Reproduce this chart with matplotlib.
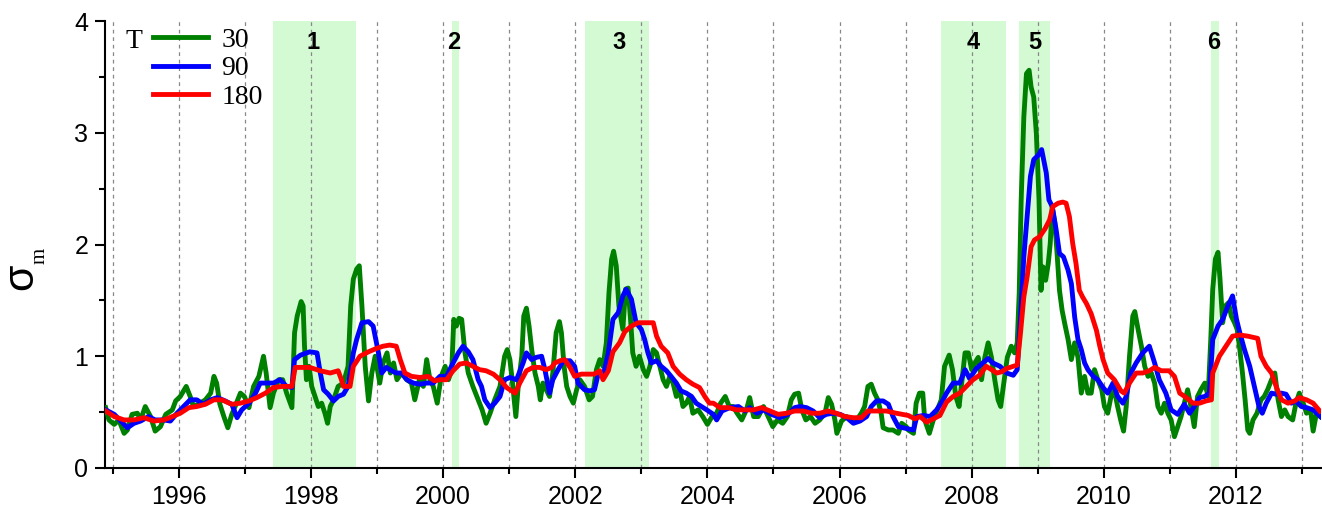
import matplotlib
matplotlib.use('Agg')
import matplotlib.pyplot as plt
from matplotlib.ticker import MultipleLocator, FixedLocator

plt.rcParams['font.family'] = ['Liberation Sans', 'DejaVu Sans']

# T = 30
t30 = [1994.89, 1994.94, 1995.02, 1995.09, 1995.17, 1995.22, 1995.29, 1995.37, 1995.42, 1995.49,
       1995.57, 1995.64, 1995.72, 1995.80, 1995.90, 1995.95, 1996.02, 1996.11, 1996.17, 1996.22,
       1996.32, 1996.40, 1996.48, 1996.53, 1996.57, 1996.62, 1996.68, 1996.74, 1996.80, 1996.85,
       1996.93, 1996.99, 1997.06, 1997.13, 1997.21, 1997.28, 1997.32, 1997.38, 1997.43, 1997.51,
       1997.57, 1997.63, 1997.71, 1997.75, 1997.79, 1997.85, 1997.88, 1997.90, 1997.93, 1997.97,
       1998.01, 1998.06, 1998.11, 1998.16, 1998.21, 1998.25, 1998.29, 1998.34, 1998.41, 1998.49,
       1998.56, 1998.60, 1998.64, 1998.69, 1998.73, 1998.77, 1998.82, 1998.87, 1998.92, 1998.97,
       1999.04, 1999.09, 1999.15, 1999.20, 1999.25, 1999.30, 1999.37, 1999.45, 1999.52, 1999.57,
       1999.64, 1999.70, 1999.75, 1999.80, 1999.85, 1999.91, 1999.97, 2000.03, 2000.08, 2000.13,
       2000.16, 2000.20, 2000.24, 2000.28, 2000.33, 2000.38, 2000.45, 2000.53, 2000.59, 2000.65,
       2000.71, 2000.78, 2000.86, 2000.93, 2000.97, 2001.01, 2001.05, 2001.10, 2001.14, 2001.19,
       2001.22, 2001.26, 2001.30, 2001.34, 2001.39, 2001.44, 2001.47, 2001.51, 2001.56, 2001.61,
       2001.66, 2001.71, 2001.76, 2001.79, 2001.83, 2001.87, 2001.92, 2001.97, 2002.02, 2002.07,
       2002.14, 2002.21, 2002.26, 2002.32, 2002.37, 2002.42, 2002.47, 2002.51, 2002.55, 2002.58,
       2002.62, 2002.66, 2002.72, 2002.76, 2002.80, 2002.84, 2002.87, 2002.92, 2002.97, 2003.03,
       2003.08, 2003.13, 2003.18, 2003.23, 2003.28, 2003.33, 2003.38, 2003.43, 2003.48, 2003.53,
       2003.58, 2003.63, 2003.68, 2003.73, 2003.78, 2003.86, 2003.93, 2004.00, 2004.07, 2004.14,
       2004.20, 2004.27, 2004.33, 2004.39, 2004.45, 2004.52, 2004.59, 2004.64, 2004.70, 2004.77,
       2004.85, 2004.92, 2004.99, 2005.06, 2005.14, 2005.21, 2005.27, 2005.32, 2005.38, 2005.43,
       2005.49, 2005.56, 2005.63, 2005.70, 2005.78, 2005.83, 2005.88, 2005.93, 2005.96, 2006.03,
       2006.11, 2006.18, 2006.26, 2006.33, 2006.38, 2006.43, 2006.48, 2006.53, 2006.58, 2006.63,
       2006.66, 2006.74, 2006.81, 2006.89, 2006.94, 2007.01, 2007.04, 2007.12, 2007.16, 2007.21,
       2007.26, 2007.29, 2007.36, 2007.42, 2007.48, 2007.54, 2007.59, 2007.66, 2007.71, 2007.76,
       2007.81, 2007.85, 2007.90, 2007.95, 2008.00, 2008.05, 2008.10, 2008.15, 2008.20, 2008.25,
       2008.30, 2008.35, 2008.40, 2008.44, 2008.48, 2008.54, 2008.60, 2008.65, 2008.69, 2008.72,
       2008.75, 2008.79, 2008.83, 2008.87, 2008.90, 2008.94, 2008.98, 2009.02, 2009.05, 2009.08,
       2009.12, 2009.16, 2009.19, 2009.22, 2009.26, 2009.29, 2009.33, 2009.37, 2009.41, 2009.46,
       2009.51, 2009.56, 2009.61, 2009.66, 2009.71, 2009.76, 2009.81, 2009.86, 2009.91, 2009.97,
       2010.01, 2010.06, 2010.11, 2010.16, 2010.21, 2010.26, 2010.30, 2010.34, 2010.39, 2010.44,
       2010.47, 2010.52, 2010.57, 2010.62, 2010.67, 2010.72, 2010.77, 2010.82, 2010.87, 2010.92,
       2010.97, 2011.02, 2011.07, 2011.12, 2011.17, 2011.22, 2011.27, 2011.32, 2011.37, 2011.42,
       2011.47, 2011.53, 2011.58, 2011.62, 2011.65, 2011.69, 2011.73, 2011.76, 2011.80, 2011.84,
       2011.89, 2011.93, 2011.98, 2012.02, 2012.06, 2012.10, 2012.14, 2012.18, 2012.21, 2012.26,
       2012.32, 2012.38, 2012.43, 2012.48, 2012.54, 2012.59, 2012.64, 2012.69, 2012.74, 2012.79,
       2012.86, 2012.91, 2012.96, 2013.02, 2013.07, 2013.13, 2013.17, 2013.22, 2013.28]
s30 = [0.54, 0.43, 0.39, 0.43, 0.31, 0.34, 0.48, 0.49, 0.43, 0.55,
       0.46, 0.33, 0.37, 0.48, 0.52, 0.60, 0.64, 0.73, 0.64, 0.55,
       0.58, 0.61, 0.67, 0.82, 0.76, 0.57, 0.46, 0.36, 0.48, 0.55,
       0.67, 0.64, 0.54, 0.73, 0.82, 1.00, 0.85, 0.54, 0.67, 0.79,
       0.79, 0.67, 0.54, 1.21, 1.36, 1.49, 1.45, 1.10, 0.79, 0.91,
       0.73, 0.64, 0.55, 0.58, 0.49, 0.40, 0.55, 0.61, 0.73, 0.76,
       0.91, 1.45, 1.69, 1.78, 1.81, 1.45, 0.91, 0.60, 0.85, 1.00,
       0.76, 0.94, 1.03, 0.85, 0.94, 0.79, 0.85, 0.79, 0.76, 0.61,
       0.79, 0.73, 0.97, 0.79, 0.73, 0.58, 0.82, 0.91, 0.79, 0.88,
       1.33, 1.27, 1.34, 1.33, 1.03, 0.85, 0.73, 0.61, 0.52, 0.40,
       0.49, 0.61, 0.73, 1.00, 1.06, 0.97, 0.76, 0.46, 0.76, 1.00,
       1.36, 1.43, 1.27, 1.06, 0.85, 0.73, 0.61, 0.76, 0.70, 0.64,
       0.85, 1.21, 1.31, 1.21, 0.91, 0.73, 0.64, 0.58, 0.70, 0.79,
       0.73, 0.61, 0.64, 0.88, 0.97, 0.91, 1.12, 1.57, 1.87, 1.94,
       1.81, 1.45, 1.24, 1.60, 1.61, 1.30, 1.03, 0.91, 1.00, 0.88,
       0.82, 0.91, 1.06, 1.03, 0.91, 0.79, 0.73, 0.82, 0.76, 0.64,
       0.70, 0.55, 0.58, 0.64, 0.49, 0.52, 0.46, 0.39, 0.46, 0.49,
       0.58, 0.64, 0.55, 0.55, 0.49, 0.43, 0.52, 0.63, 0.46, 0.46,
       0.55, 0.46, 0.37, 0.43, 0.40, 0.46, 0.61, 0.66, 0.67, 0.52,
       0.43, 0.46, 0.40, 0.43, 0.49, 0.63, 0.57, 0.43, 0.31, 0.42,
       0.46, 0.42, 0.43, 0.49, 0.55, 0.73, 0.75, 0.67, 0.61, 0.49,
       0.36, 0.34, 0.34, 0.31, 0.40, 0.37, 0.34, 0.31, 0.58, 0.67,
       0.67, 0.43, 0.31, 0.43, 0.52, 0.61, 0.91, 1.01, 0.88, 0.64,
       0.55, 0.76, 1.03, 1.03, 0.88, 0.94, 0.99, 0.79, 0.99, 1.12,
       0.99, 0.79, 0.61, 0.55, 0.73, 0.99, 1.09, 1.03, 1.12, 1.56,
       2.40, 3.14, 3.53, 3.56, 3.41, 3.32, 2.99, 2.40, 1.59, 1.80,
       1.68, 1.83, 2.01, 2.34, 2.19, 1.95, 1.59, 1.41, 1.29, 1.15,
       0.97, 1.12, 0.99, 0.67, 0.82, 0.67, 0.67, 0.88, 0.79, 0.70,
       0.55, 0.49, 0.64, 0.70, 0.55, 0.42, 0.33, 0.55, 1.00, 1.36,
       1.40, 1.24, 1.09, 0.91, 0.82, 0.85, 0.76, 0.55, 0.49, 0.58,
       0.49, 0.43, 0.28, 0.37, 0.46, 0.58, 0.70, 0.55, 0.37, 0.64,
       0.70, 0.76, 0.64, 1.15, 1.60, 1.87, 1.93, 1.69, 1.30, 1.45,
       1.48, 1.36, 1.30, 1.24, 1.06, 0.85, 0.61, 0.34, 0.31, 0.43,
       0.49, 0.61, 0.64, 0.70, 0.79, 0.85, 0.61, 0.46, 0.52, 0.46,
       0.43, 0.58, 0.67, 0.58, 0.49, 0.52, 0.33, 0.49, 0.46]

# T = 90
t90 = [1994.89, 1995.02, 1995.12, 1995.22, 1995.32, 1995.42, 1995.54, 1995.64, 1995.77, 1995.87,
       1995.97, 1996.07, 1996.17, 1996.27, 1996.37, 1996.48, 1996.58, 1996.70, 1996.80, 1996.88,
       1996.95, 1997.06, 1997.16, 1997.23, 1997.33, 1997.43, 1997.53, 1997.63, 1997.71, 1997.75,
       1997.84, 1997.98, 1998.09, 1998.14, 1998.19, 1998.26, 1998.34, 1998.41, 1998.49, 1998.56,
       1998.64, 1998.69, 1998.77, 1998.87, 1998.94, 1999.02, 1999.07, 1999.14, 1999.22, 1999.29,
       1999.37, 1999.45, 1999.55, 1999.65, 1999.75, 1999.85, 1999.95, 2000.05, 2000.15, 2000.23,
       2000.30, 2000.38, 2000.45, 2000.53, 2000.58, 2000.63, 2000.71, 2000.78, 2000.86, 2000.93,
       2001.01, 2001.11, 2001.21, 2001.26, 2001.34, 2001.41, 2001.49, 2001.54, 2001.61, 2001.66,
       2001.74, 2001.82, 2001.92, 2001.99, 2002.04, 2002.14, 2002.22, 2002.29, 2002.35, 2002.42,
       2002.50, 2002.57, 2002.65, 2002.72, 2002.77, 2002.85, 2002.92, 2003.00, 2003.05, 2003.10,
       2003.15, 2003.23, 2003.30, 2003.38, 2003.45, 2003.53, 2003.60, 2003.68, 2003.76, 2003.83,
       2003.91, 2003.99, 2004.09, 2004.14, 2004.22, 2004.34, 2004.47, 2004.57, 2004.64, 2004.75,
       2004.85, 2004.97, 2005.10, 2005.22, 2005.32, 2005.40, 2005.50, 2005.60, 2005.70, 2005.80,
       2005.90, 2006.01, 2006.11, 2006.21, 2006.31, 2006.41, 2006.48, 2006.56, 2006.66, 2006.74,
       2006.81, 2006.89, 2006.96, 2007.04, 2007.12, 2007.17, 2007.27, 2007.37, 2007.47, 2007.54,
       2007.62, 2007.72, 2007.82, 2007.90, 2007.97, 2008.07, 2008.17, 2008.25, 2008.32, 2008.43,
       2008.53, 2008.63, 2008.69, 2008.74, 2008.79, 2008.84, 2008.89, 2008.94, 2009.01, 2009.06,
       2009.09, 2009.13, 2009.17, 2009.22, 2009.28, 2009.33, 2009.39, 2009.46, 2009.51, 2009.56,
       2009.61, 2009.66, 2009.71, 2009.76, 2009.84, 2009.91, 2009.99, 2010.06, 2010.14, 2010.21,
       2010.29, 2010.34, 2010.41, 2010.49, 2010.59, 2010.69, 2010.77, 2010.84, 2010.94, 2011.02,
       2011.12, 2011.22, 2011.30, 2011.37, 2011.45, 2011.53, 2011.60, 2011.65, 2011.73, 2011.80,
       2011.88, 2011.95, 2012.01, 2012.06, 2012.13, 2012.21, 2012.28, 2012.35, 2012.40, 2012.46,
       2012.54, 2012.61, 2012.69, 2012.76, 2012.84, 2012.91, 2012.99, 2013.07, 2013.17, 2013.28]
s90 = [0.52, 0.48, 0.42, 0.36, 0.40, 0.42, 0.46, 0.43, 0.43, 0.42,
       0.49, 0.55, 0.61, 0.61, 0.57, 0.61, 0.63, 0.60, 0.57, 0.45,
       0.52, 0.58, 0.67, 0.76, 0.76, 0.76, 0.79, 0.73, 0.72, 0.97,
       1.01, 1.04, 1.03, 0.85, 0.70, 0.66, 0.60, 0.64, 0.66, 0.73,
       1.03, 1.15, 1.30, 1.31, 1.27, 1.03, 0.85, 0.90, 0.87, 0.85,
       0.85, 0.79, 0.76, 0.75, 0.76, 0.76, 0.82, 0.82, 0.94, 1.03,
       1.09, 1.04, 0.97, 0.79, 0.73, 0.61, 0.54, 0.58, 0.64, 0.79,
       0.81, 0.79, 0.94, 1.03, 0.97, 0.99, 1.00, 0.88, 0.67, 0.79,
       0.88, 0.96, 0.96, 0.91, 0.76, 0.70, 0.69, 0.70, 0.85, 0.82,
       1.03, 1.33, 1.39, 1.54, 1.60, 1.51, 1.30, 1.24, 1.15, 1.03,
       0.94, 0.96, 0.91, 0.87, 0.82, 0.76, 0.69, 0.67, 0.64, 0.58,
       0.55, 0.52, 0.48, 0.43, 0.51, 0.54, 0.55, 0.51, 0.54, 0.49,
       0.52, 0.48, 0.45, 0.48, 0.54, 0.55, 0.54, 0.51, 0.45, 0.48,
       0.49, 0.48, 0.45, 0.40, 0.42, 0.46, 0.55, 0.60, 0.60, 0.57,
       0.46, 0.37, 0.36, 0.35, 0.34, 0.46, 0.47, 0.46, 0.52, 0.58,
       0.67, 0.76, 0.76, 0.88, 0.80, 0.89, 0.94, 0.98, 0.94, 0.91,
       0.85, 0.83, 0.88, 1.35, 1.89, 2.25, 2.61, 2.76, 2.80, 2.85,
       2.76, 2.64, 2.40, 2.34, 2.13, 1.92, 1.89, 1.77, 1.65, 1.35,
       1.15, 1.06, 0.94, 0.88, 0.82, 0.79, 0.72, 0.67, 0.76, 0.64,
       0.58, 0.64, 0.85, 0.94, 1.03, 1.09, 0.94, 0.79, 0.67, 0.52,
       0.48, 0.57, 0.49, 0.55, 0.63, 0.64, 0.67, 1.15, 1.27, 1.33,
       1.45, 1.54, 1.33, 1.21, 1.06, 0.91, 0.73, 0.55, 0.49, 0.58,
       0.67, 0.66, 0.67, 0.66, 0.58, 0.60, 0.55, 0.54, 0.52, 0.46]

# T = 180
t180 = [1994.89, 1995.02, 1995.17, 1995.32, 1995.47, 1995.62, 1995.77, 1995.90, 1996.02, 1996.15,
        1996.27, 1996.40, 1996.53, 1996.65, 1996.80, 1996.93, 1997.06, 1997.18, 1997.31, 1997.43,
        1997.56, 1997.71, 1997.76, 1997.89, 1997.98, 1998.14, 1998.29, 1998.41, 1998.46, 1998.49,
        1998.59, 1998.64, 1998.74, 1998.87, 1998.99, 1999.09, 1999.19, 1999.29, 1999.35, 1999.42,
        1999.52, 1999.65, 1999.77, 1999.87, 1999.95, 2000.05, 2000.15, 2000.25, 2000.35, 2000.45,
        2000.55, 2000.65, 2000.76, 2000.86, 2000.96, 2001.09, 2001.16, 2001.26, 2001.36, 2001.46,
        2001.56, 2001.64, 2001.69, 2001.77, 2001.84, 2001.92, 2001.99, 2002.09, 2002.19, 2002.29,
        2002.37, 2002.42, 2002.50, 2002.57, 2002.67, 2002.75, 2002.85, 2002.95, 2003.05, 2003.18,
        2003.23, 2003.30, 2003.40, 2003.48, 2003.58, 2003.68, 2003.78, 2003.88, 2003.96, 2004.03,
        2004.09, 2004.19, 2004.32, 2004.44, 2004.57, 2004.70, 2004.82, 2004.95, 2005.07, 2005.20,
        2005.32, 2005.45, 2005.58, 2005.70, 2005.83, 2005.95, 2006.08, 2006.21, 2006.33, 2006.43,
        2006.56, 2006.71, 2006.86, 2007.04, 2007.14, 2007.22, 2007.32, 2007.42, 2007.52, 2007.62,
        2007.72, 2007.82, 2007.92, 2008.02, 2008.12, 2008.22, 2008.30, 2008.38, 2008.45, 2008.53,
        2008.63, 2008.69, 2008.74, 2008.79, 2008.84, 2008.90, 2008.95, 2009.03, 2009.11, 2009.18,
        2009.23, 2009.31, 2009.38, 2009.43, 2009.48, 2009.53, 2009.58, 2009.63, 2009.68, 2009.74,
        2009.81, 2009.89, 2009.94, 2009.99, 2010.06, 2010.16, 2010.26, 2010.31, 2010.39, 2010.49,
        2010.59, 2010.69, 2010.77, 2010.87, 2010.99, 2011.07, 2011.15, 2011.25, 2011.35, 2011.45,
        2011.55, 2011.63, 2011.65, 2011.75, 2011.85, 2011.95, 2012.06, 2012.18, 2012.33, 2012.38,
        2012.46, 2012.54, 2012.61, 2012.69, 2012.79, 2012.89, 2012.96, 2013.07, 2013.17, 2013.27]
s180 = [0.51, 0.46, 0.43, 0.43, 0.45, 0.42, 0.43, 0.46, 0.49, 0.54,
        0.55, 0.57, 0.61, 0.61, 0.57, 0.58, 0.60, 0.63, 0.67, 0.72,
        0.73, 0.73, 0.90, 0.90, 0.90, 0.87, 0.85, 0.87, 0.79, 0.73,
        0.73, 0.91, 1.00, 1.04, 1.07, 1.09, 1.10, 1.09, 0.97, 0.85,
        0.82, 0.81, 0.82, 0.78, 0.79, 0.79, 0.87, 0.93, 0.94, 0.91,
        0.88, 0.87, 0.84, 0.79, 0.72, 0.67, 0.76, 0.87, 0.90, 0.90,
        0.88, 0.90, 0.94, 0.96, 0.97, 0.90, 0.82, 0.84, 0.84, 0.84,
        0.87, 0.79, 0.87, 1.04, 1.12, 1.22, 1.27, 1.30, 1.30, 1.30,
        1.18, 1.09, 1.03, 0.91, 0.84, 0.79, 0.75, 0.72, 0.64, 0.58,
        0.58, 0.54, 0.54, 0.52, 0.52, 0.52, 0.54, 0.51, 0.48, 0.49,
        0.51, 0.51, 0.49, 0.49, 0.51, 0.49, 0.46, 0.45, 0.45, 0.51,
        0.51, 0.51, 0.49, 0.47, 0.44, 0.46, 0.41, 0.44, 0.47, 0.59,
        0.64, 0.67, 0.73, 0.79, 0.83, 0.91, 0.88, 0.85, 0.86, 0.89,
        0.91, 0.92, 1.21, 1.53, 1.71, 1.98, 2.04, 2.07, 2.14, 2.22,
        2.34, 2.37, 2.38, 2.37, 2.25, 2.01, 1.83, 1.59, 1.53, 1.47,
        1.38, 1.23, 1.09, 0.97, 0.85, 0.79, 0.69, 0.67, 0.76, 0.85,
        0.85, 0.87, 0.90, 0.87, 0.87, 0.82, 0.67, 0.63, 0.58, 0.58,
        0.60, 0.61, 0.85, 1.00, 1.09, 1.18, 1.19, 1.18, 1.16, 1.00,
        0.91, 0.85, 0.73, 0.61, 0.58, 0.60, 0.63, 0.61, 0.58, 0.51]

# shaded periods and their labels
periods = [(1997.42, 1998.68), (2000.14, 2000.24), (2002.14, 2003.12),
           (2007.54, 2008.52), (2008.71, 2009.19), (2011.62, 2011.74)]
period_labels = ['1', '2', '3', '4', '5', '6']
label_x = [1998.03, 2000.16, 2002.66, 2008.03, 2008.95, 2011.66]

fig = plt.figure(figsize=(13.22, 5.09), dpi=100)
ax = fig.add_axes([0.0794, 0.0806, 0.9199, 0.878])

for (a, b) in periods:
    ax.axvspan(a, b, color='#d4fad4', lw=0, zorder=0)
for yr in range(1995, 2014):
    ax.axvline(yr, color='#888888', lw=0.9, ls=(0, (3, 3)), zorder=1)
for lab, xx in zip(period_labels, label_x):
    ax.text(xx, 3.81, lab, ha='center', va='center', fontsize=17, fontweight='bold')

l1, = ax.plot(t30, s30, color='#008000', lw=3.5, zorder=3, solid_joinstyle='round')
l2, = ax.plot(t90, s90, color='#0000ff', lw=3.5, zorder=4, solid_joinstyle='round')
l3, = ax.plot(t180, s180, color='#ff0000', lw=3.5, zorder=5, solid_joinstyle='round')

ax.set_xlim(1994.88, 2013.29)
ax.set_ylim(0, 4)
ax.spines['top'].set_visible(False)
ax.spines['right'].set_visible(False)
ax.spines['left'].set_linewidth(1.5)
ax.spines['bottom'].set_linewidth(1.5)

ax.xaxis.set_major_locator(FixedLocator(range(1996, 2013, 2)))
ax.xaxis.set_minor_locator(FixedLocator(range(1995, 2014, 2)))
ax.yaxis.set_major_locator(MultipleLocator(1))
ax.yaxis.set_minor_locator(MultipleLocator(0.5))
ax.tick_params(which='major', length=7, width=1.5, labelsize=18, pad=5)
ax.tick_params(which='minor', length=4, width=1.5)

# y label: sigma with subscript m
fig.text(21 / 1322, 1 - 277 / 509, 'σ', rotation=90, ha='center', va='center', fontsize=31)
fig.text(40 / 1322, 1 - 256 / 509, 'm', rotation=90, ha='center', va='center',
         fontsize=15, family='Liberation Serif')

leg = ax.legend([l1, l2, l3], ['30', '90', '180'], loc='upper left',
                bbox_to_anchor=(0.0392, 0.985), frameon=False,
                prop={'family': 'Liberation Serif', 'size': 20},
                handlelength=2.0, handletextpad=0.48, labelspacing=0.1,
                borderpad=0, borderaxespad=0)
ax.text(0.0236, 0.955, 'T', transform=ax.transAxes, ha='center', va='center',
        fontsize=20, family='Liberation Serif')

fig.savefig('out.png', dpi=100)
